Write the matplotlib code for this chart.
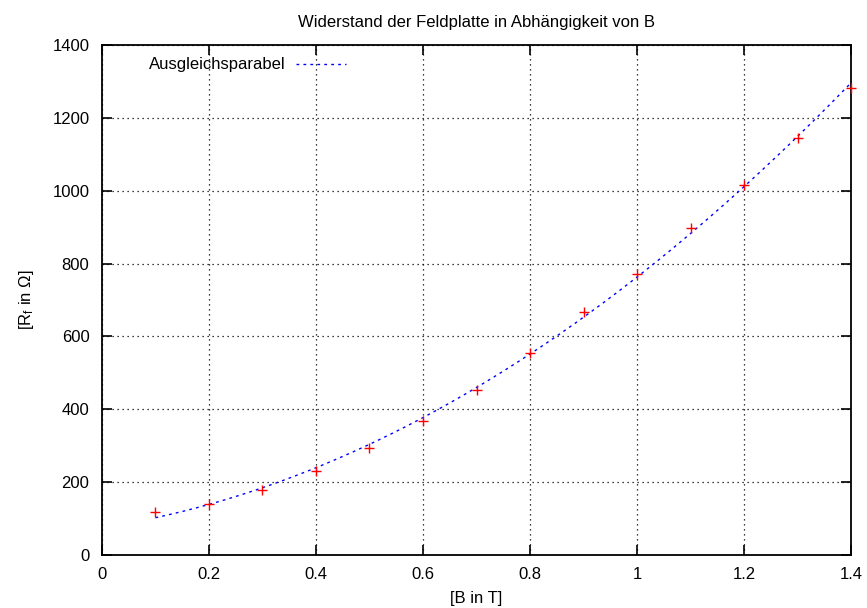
import numpy as np
import matplotlib.pyplot as plt

plt.rcParams["font.family"] = ["Liberation Sans", "DejaVu Sans"]
plt.rcParams["mathtext.fontset"] = "custom"
plt.rcParams["mathtext.rm"] = "Liberation Sans"
plt.rcParams["mathtext.it"] = "Liberation Sans"

# Messwerte: Magnetfeld B in T, Widerstand R_f in Ohm
b_field = [0.1, 0.2, 0.3, 0.4, 0.5, 0.6, 0.7, 0.8, 0.9, 1.0, 1.1, 1.2, 1.3, 1.4]
r_f = [118, 139, 178, 231, 294, 368, 452, 555, 666, 771, 897, 1016, 1144, 1283]

x_ticks = [0, 0.2, 0.4, 0.6, 0.8, 1, 1.2, 1.4]
x_ticklabels = ["0", "0.2", "0.4", "0.6", "0.8", "1", "1.2", "1.4"]
y_ticks = [0, 200, 400, 600, 800, 1000, 1200, 1400]


def main() -> None:
    fig = plt.figure(figsize=(8.67, 6.08), dpi=100)
    ax = fig.add_axes([0.1176, 0.0872, 0.864, 0.8388])

    # Ausgleichsparabel (quadratic fit to the measurements)
    coef = np.polyfit(b_field, r_f, 2)
    xs = np.linspace(min(b_field), max(b_field), 200)
    ax.plot(xs, np.polyval(coef, xs), color="blue", lw=1.0,
            linestyle=(0, (2, 3)), label="Ausgleichsparabel", zorder=3)

    ax.plot(b_field, r_f, linestyle="none", marker="+", color="red",
            markersize=7.5, markeredgewidth=1.0, zorder=4, clip_on=False)

    ax.set_xlim(0, 1.4)
    ax.set_ylim(0, 1400)
    ax.set_xticks(x_ticks)
    ax.set_xticklabels(x_ticklabels)
    ax.set_yticks(y_ticks)
    ax.tick_params(direction="in", length=7, width=1.2, top=True, right=True,
                   labelsize=12, pad=9)
    for s in ax.spines.values():
        s.set_linewidth(1.3)
    ax.grid(True, color="black", linestyle=(0, (1, 3)), linewidth=0.9)

    ax.set_title("Widerstand der Feldplatte in Abhängigkeit von B", fontsize=12, pad=13)
    ax.set_xlabel("[B in T]", fontsize=12, labelpad=6)
    ax.set_ylabel(r"[R$_\mathregular{f}$ in Ω]", fontsize=12, labelpad=12)

    ax.legend(loc="upper left", bbox_to_anchor=(0.043, 1.005), frameon=False,
              markerfirst=False, handlelength=3.0, handletextpad=0.6, fontsize=12)

    fig.savefig("out.png", dpi=100)
    plt.close(fig)


if __name__ == "__main__":
    main()
